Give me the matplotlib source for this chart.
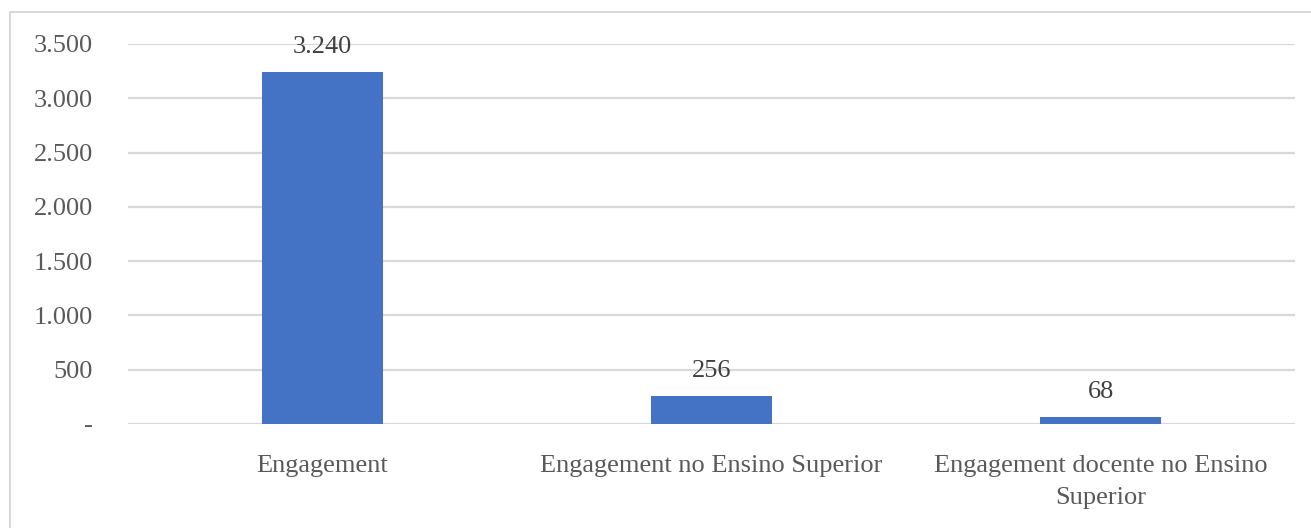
import matplotlib.pyplot as plt
from matplotlib.patches import Rectangle
from matplotlib.ticker import FuncFormatter

plt.rcParams["font.family"] = ["Liberation Serif", "DejaVu Serif"]

categories = ["Engagement", "Engagement no Ensino Superior",
              "Engagement docente no Ensino\nSuperior"]
values = [3240, 256, 68]
yticks = [0, 500, 1000, 1500, 2000, 2500, 3000, 3500]

TEXT = "#595959"
GRID = "#d9d9d9"
BLUE = "#4472C4"


def fmt(v, pos=None):
    if v == 0:
        return "-"
    return f"{int(v):,}".replace(",", ".")


fig = plt.figure(figsize=(13.11, 5.28), dpi=100)
ax = fig.add_axes([0.0976, 0.197, 0.8904, 0.7197])

x = range(len(categories))
bars = ax.bar(x, values, width=0.31, color=BLUE, zorder=3)
for b, v in zip(bars, values):
    ax.annotate(fmt(v), (b.get_x() + b.get_width() / 2, v),
                xytext=(0, 10), textcoords="offset points",
                ha="center", va="bottom", fontsize=19, color="#404040")

ax.set_xlim(-0.5, 2.5)
ax.set_ylim(0, 3500)
ax.set_yticks(yticks)
ax.yaxis.set_major_formatter(FuncFormatter(fmt))
ax.set_xticks(list(x))
ax.set_xticklabels(categories, linespacing=1.6)
ax.tick_params(axis="both", length=0, labelsize=19, labelcolor=TEXT)
ax.tick_params(axis="y", pad=25)
ax.tick_params(axis="x", pad=22)
ax.grid(axis="y", color=GRID, linewidth=1.6, zorder=0)
for s in ax.spines.values():
    s.set_visible(False)

fig.patches.append(Rectangle((10 / 1311, -0.01), 1.0, 1 - 12 / 528 + 0.01,
                             transform=fig.transFigure, fill=False,
                             edgecolor=GRID, linewidth=1.5))

fig.savefig("out.png", dpi=100)
